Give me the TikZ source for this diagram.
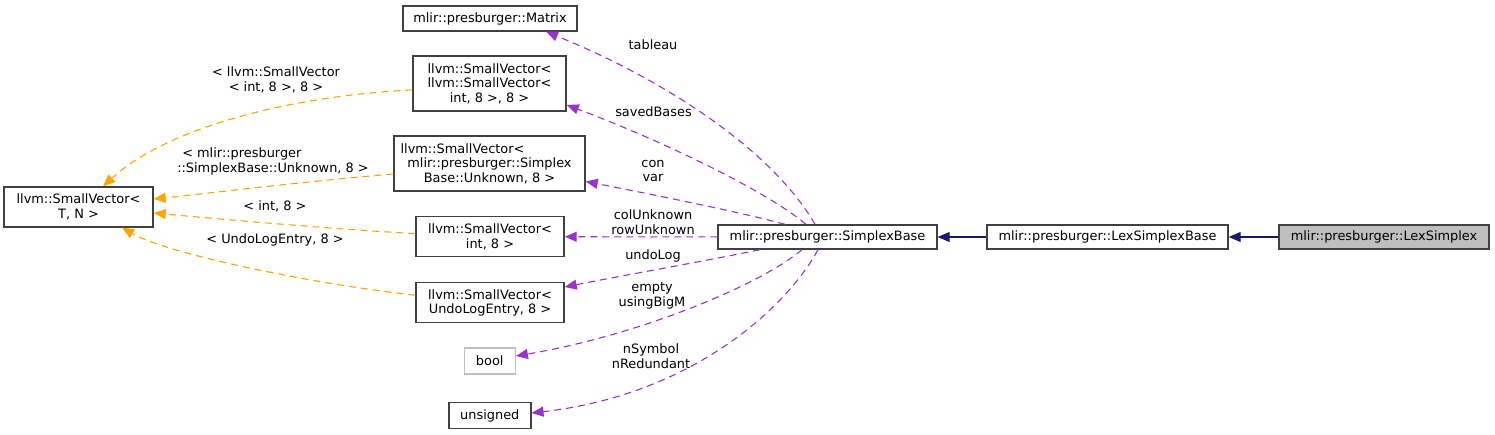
\documentclass[tikz,border=0pt]{standalone}
\usepackage{fontspec}
\setmainfont{DejaVu Sans}
\usetikzlibrary{arrows.meta,positioning}
\definecolor{boxline}{RGB}{64, 64, 64}
\definecolor{boxgray}{RGB}{191, 191, 191}
\definecolor{usenavy}{RGB}{25, 25, 112}
\definecolor{usepurple}{RGB}{154, 50, 205}
\definecolor{useorange}{RGB}{255, 165, 0}
\newcommand{\doxyfont}{\fontsize{12.9}{14.4}\selectfont}

\begin{document}
\begin{tikzpicture}[x=1pt, y=-1pt,
        cls/.style={draw=boxline, line width=1.4pt, fill=white, inner sep=0pt, align=center, font=\doxyfont},
        lbl/.style={inner sep=0pt, align=center, font=\doxyfont},
        inherit/.style={usenavy, line width=1.1pt, -{Triangle[length=12pt, width=10pt]}},
        member/.style={usepurple, line width=1.1pt, dash pattern=on 7pt off 5pt, -{Triangle[length=12pt, width=10pt]}},
        templ/.style={useorange, line width=1.1pt, dash pattern=on 7pt off 5pt, -{Triangle[length=12pt, width=10pt]}}]
        \useasboundingbox (0,0) rectangle (1495,435);
        \node[cls, minimum width=174pt, minimum height=25pt] (mat) at (490,18.5) {mlir::presburger::Matrix};
        \node[cls, minimum width=153pt, minimum height=55pt] (svsv) at (489.5,83.5) {llvm::SmallVector<\\llvm::SmallVector<\\int, 8 >, 8 >};
        \node[cls, minimum width=191pt, minimum height=55pt] (svunk) at (489.5,163.5) {llvm::SmallVector<\hspace*{54pt}\\mlir::presburger::Simplex\\Base::Unknown, 8 >};
        \node[cls, minimum width=148pt, minimum height=40pt] (svint) at (490,236.7) {llvm::SmallVector<\\int, 8 >};
        \node[cls, minimum width=148pt, minimum height=40pt] (svundo) at (490,302.7) {llvm::SmallVector<\\UndoLogEntry, 8 >};
        \node[cls, draw=boxgray, minimum width=51pt, minimum height=26pt] (bool) at (489.7,361) {bool};
        \node[cls, minimum width=82pt, minimum height=26pt] (uns) at (489.8,415.5) {unsigned};
        \node[cls, minimum width=149pt, minimum height=40pt] (svtn) at (78.5,207) {llvm::SmallVector<\\T, N >};
        \node[cls, minimum width=219pt, minimum height=24pt] (sb) at (827.5,237) {mlir::presburger::SimplexBase};
        \node[cls, minimum width=241pt, minimum height=24pt] (lsb) at (1107.5,237) {mlir::presburger::LexSimplexBase};
        \node[cls, fill=boxgray, minimum width=210pt, minimum height=24pt] (ls) at (1384,237) {mlir::presburger::LexSimplex};

        \draw[inherit] (ls) -- (lsb);
        \draw[inherit] (lsb) -- (sb);

        \draw[member] ([xshift=-12.5pt]sb.north) .. controls (772,150) and (665,80) .. ([xshift=56pt]mat.south);
        \draw[member] ([xshift=-21.5pt]sb.north) .. controls (765,190) and (660,140) .. ([yshift=-21.5pt]svsv.east);
        \draw[member] ([xshift=-42.5pt]sb.north) .. controls (740,212) and (640,192) .. ([yshift=-18pt]svunk.east);
        \draw[member] (sb) -- (svint);
        \draw[member] ([xshift=-67.5pt]sb.south) .. controls (700,262) and (620,276) .. ([yshift=15.7pt]svundo.east);
        \draw[member] ([xshift=-25.5pt]sb.south) .. controls (760,285) and (640,335) .. ([yshift=5pt]bool.east);
        \draw[member] ([xshift=-9.5pt]sb.south) .. controls (785,310) and (690,395) .. ([yshift=2.5pt]uns.east);

        \draw[templ] ([yshift=-6.5pt]svsv.west) .. controls (300,95) and (170,125) .. ([xshift=24.5pt]svtn.north);
        \draw[templ] ([yshift=-10.5pt]svunk.west) .. controls (300,182) and (220,192) .. ([yshift=8pt]svtn.east);
        \draw[templ] ([yshift=3pt]svint.west) .. controls (320,228) and (230,220) .. ([yshift=-6pt]svtn.east);
        \draw[templ] ([yshift=7.5pt]svundo.west) .. controls (320,285) and (170,255) .. ([xshift=43.5pt]svtn.south);

        \node[lbl] (ltab) at (653,45) {tableau};
        \node[lbl] (lsaved) at (653.5,111.7) {savedBases};
        \node[lbl] (lcon) at (653,171) {con\\var};
        \node[lbl] (lcol) at (653,222) {colUnknown\\rowUnknown};
        \node[lbl] (lundo) at (653,256) {undoLog};
        \node[lbl] (lempty) at (652,296) {empty\\usingBigM};
        \node[lbl] (lnsym) at (651,356) {nSymbol\\nRedundant};
        \node[lbl] (lsvsv) at (276,80) {< llvm::SmallVector\\< int, 8 >, 8 >};
        \node[lbl, align=left] (lsvunk) at (273,161.5) {\hspace*{5pt}< mlir::presburger\\::SimplexBase::Unknown, 8 >};
        \node[lbl] (lsvint) at (275,206.5) {< int, 8 >};
        \node[lbl] (lsvundo) at (275,240) {< UndoLogEntry, 8 >};
    \end{tikzpicture}
\end{document}
